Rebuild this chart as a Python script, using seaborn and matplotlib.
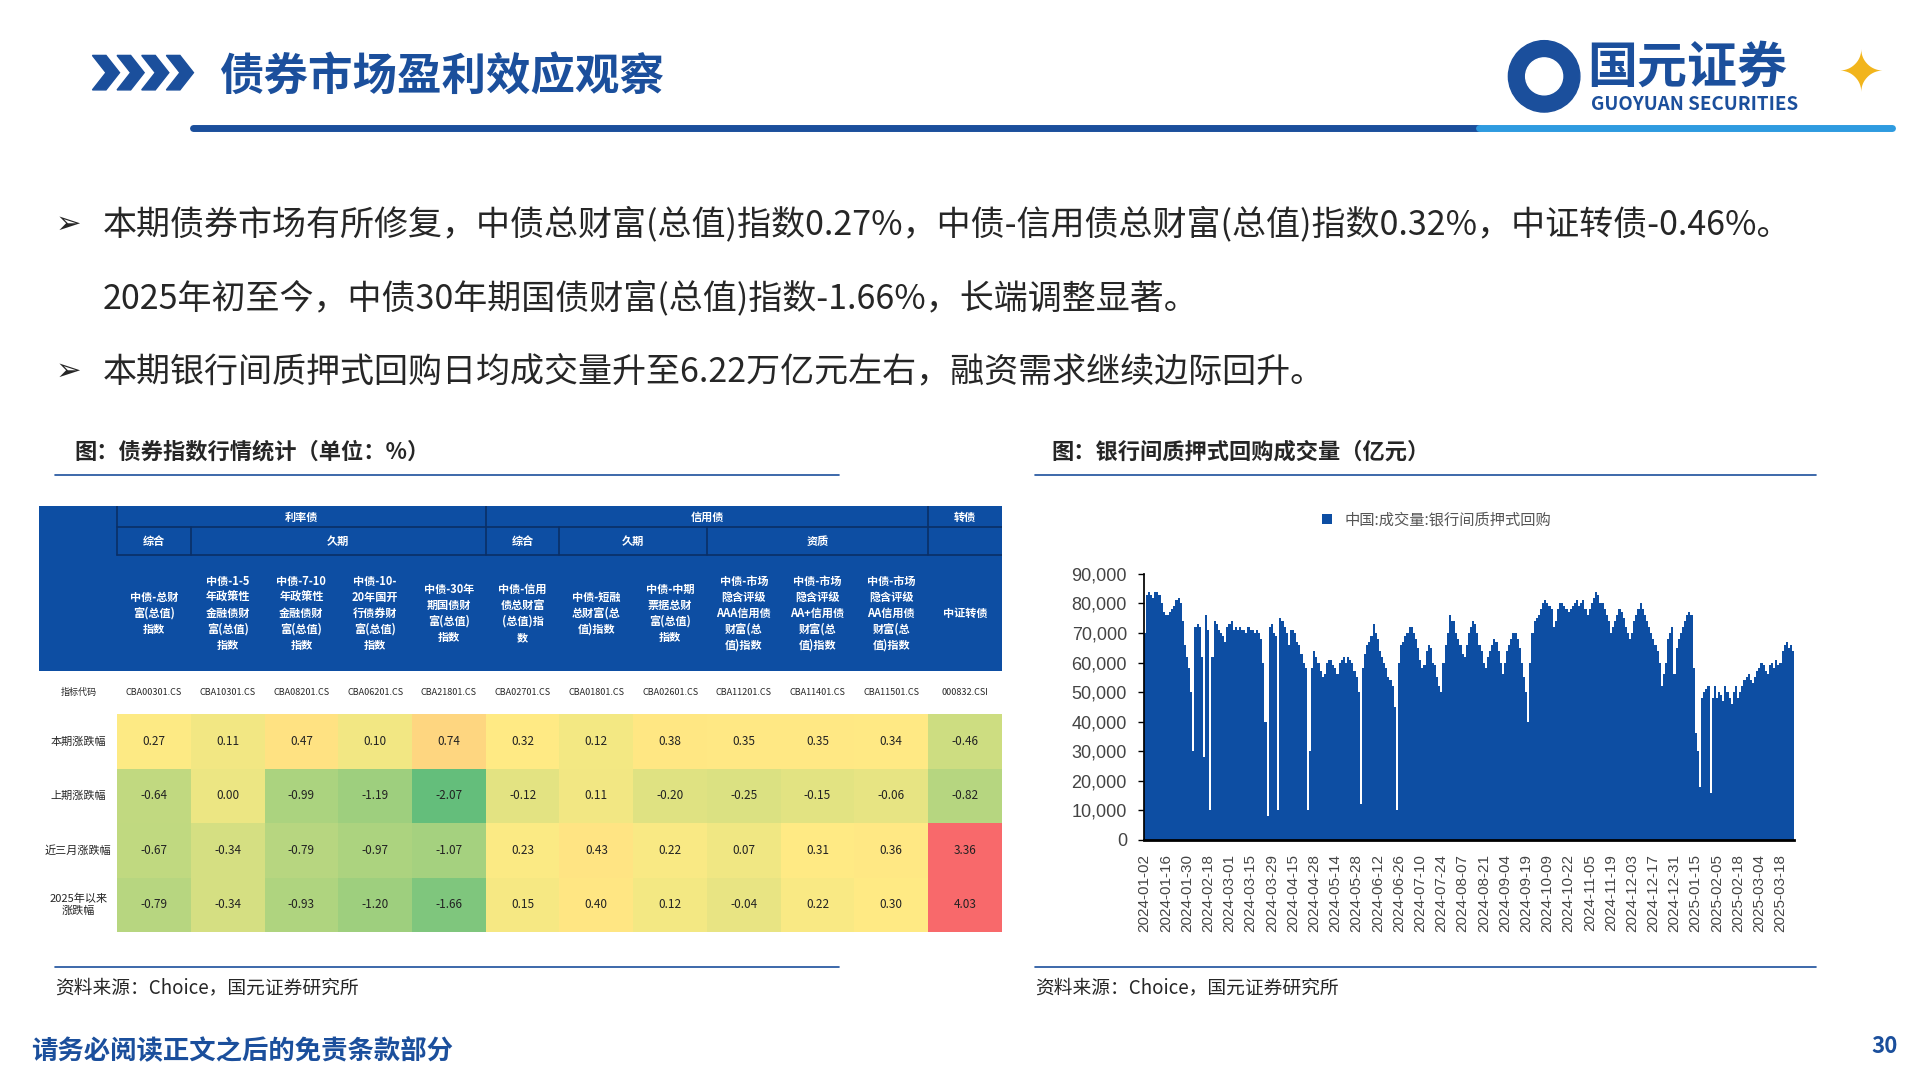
import matplotlib
matplotlib.use("Agg")
import matplotlib.pyplot as plt
import matplotlib.patches as mpatches
from matplotlib.colors import LinearSegmentedColormap, TwoSlopeNorm
import numpy as np
import pandas as pd
import seaborn as sns

sns.set_theme(style="white")
plt.rcParams['font.family'] = ['Noto Sans CJK SC', 'DejaVu Sans']

# ---------------- data ----------------
title = "债券市场盈利效应观察"
bullet1 = "本期债券市场有所修复，中债总财富(总值)指数0.27%，中债-信用债总财富(总值)指数0.32%，中证转债-0.46%。"
bullet1b = "2025年初至今，中债30年期国债财富(总值)指数-1.66%，长端调整显著。"
bullet2 = "本期银行间质押式回购日均成交量升至6.22万亿元左右，融资需求继续边际回升。"

col_names = ["中债-总财\n富(总值)\n指数", "中债-1-5\n年政策性\n金融债财\n富(总值)\n指数",
             "中债-7-10\n年政策性\n金融债财\n富(总值)\n指数", "中债-10-\n20年国开\n行债券财\n富(总值)\n指数",
             "中债-30年\n期国债财\n富(总值)\n指数", "中债-信用\n债总财富\n(总值)指\n数",
             "中债-短融\n总财富(总\n值)指数", "中债-中期\n票据总财\n富(总值)\n指数",
             "中债-市场\n隐含评级\nAAA信用债\n财富(总\n值)指数", "中债-市场\n隐含评级\nAA+信用债\n财富(总\n值)指数",
             "中债-市场\n隐含评级\nAA信用债\n财富(总\n值)指数", "中证转债"]
codes = ["CBA00301.CS", "CBA10301.CS", "CBA08201.CS", "CBA06201.CS", "CBA21801.CS", "CBA02701.CS",
         "CBA01801.CS", "CBA02601.CS", "CBA11201.CS", "CBA11401.CS", "CBA11501.CS", "000832.CSI"]
row_names = ["本期涨跌幅", "上期涨跌幅", "近三月涨跌幅", "2025年以来\n涨跌幅"]
chg_now = [0.27, 0.11, 0.47, 0.10, 0.74, 0.32, 0.12, 0.38, 0.35, 0.35, 0.34, -0.46]
chg_prev = [-0.64, 0.00, -0.99, -1.19, -2.07, -0.12, 0.11, -0.20, -0.25, -0.15, -0.06, -0.82]
chg_3m = [-0.67, -0.34, -0.79, -0.97, -1.07, 0.23, 0.43, 0.22, 0.07, 0.31, 0.36, 3.36]
chg_ytd = [-0.79, -0.34, -0.93, -1.20, -1.66, 0.15, 0.40, 0.12, -0.04, 0.22, 0.30, 4.03]

date_labels = ["2024-01-02", "2024-01-16", "2024-01-30", "2024-02-18", "2024-03-01", "2024-03-15",
               "2024-03-29", "2024-04-15", "2024-04-28", "2024-05-14", "2024-05-28", "2024-06-12",
               "2024-06-26", "2024-07-10", "2024-07-24", "2024-08-07", "2024-08-21", "2024-09-04",
               "2024-09-19", "2024-10-09", "2024-10-22", "2024-11-05", "2024-11-19", "2024-12-03",
               "2024-12-17", "2024-12-31", "2025-01-15", "2025-02-05", "2025-02-18", "2025-03-04",
               "2025-03-18"]
# 银行间质押式回购成交量（千亿元），每行约10个交易日
repo_k = [
    70, 83, 84, 83, 82, 84, 84, 83, 80, 77,
    76, 76, 77, 78, 79, 81, 82, 80, 74, 66,
    62, 58, 50, 30, 72, 73, 72, 62, 28, 76,
    71, 10, 62, 74, 73, 71, 70, 69, 67, 72,
    73, 74, 71, 72, 71, 72, 71, 71, 70, 72,
    71, 71, 70, 71, 70, 68, 60, 40, 8, 72,
    73, 70, 69, 10, 75, 74, 72, 70, 66, 71,
    71, 70, 67, 66, 63, 60, 58, 10, 30, 58,
    64, 62, 60, 57, 55, 56, 60, 61, 61, 59,
    58, 56, 60, 61, 62, 60, 62, 61, 60, 57,
    55, 50, 12, 58, 63, 66, 67, 69, 73, 70,
    68, 64, 62, 60, 58, 55, 54, 52, 45, 10,
    60, 66, 67, 69, 70, 72, 72, 70, 68, 65,
    61, 58, 59, 64, 66, 65, 60, 59, 55, 52,
    50, 60, 66, 70, 76, 74, 74, 70, 68, 66,
    63, 62, 66, 70, 72, 74, 73, 70, 66, 64,
    60, 58, 62, 64, 66, 68, 67, 64, 60, 56,
    60, 64, 66, 68, 70, 70, 68, 65, 60, 55,
    50, 40, 60, 70, 74, 75, 76, 78, 80, 81,
    80, 79, 78, 72, 74, 78, 80, 80, 79, 78,
    77, 78, 79, 80, 81, 79, 80, 81, 78, 76,
    78, 80, 82, 84, 83, 80, 80, 78, 76, 74,
    70, 72, 74, 76, 78, 77, 75, 72, 70, 68,
    70, 74, 76, 78, 80, 78, 76, 74, 72, 70,
    68, 66, 64, 60, 52, 56, 60, 68, 70, 72,
    56, 65, 68, 70, 72, 74, 76, 77, 76, 58,
    36, 30, 18, 48, 50, 51, 52, 16, 48, 52,
    48, 50, 49, 47, 52, 50, 48, 46, 50, 52,
    48, 50, 52, 54, 55, 56, 54, 53, 55, 57,
    58, 60, 59, 57, 56, 59, 60, 58, 61, 59,
    60, 64, 66, 67, 65, 66, 64,
]

BLUE = "#0d4ea3"
DARK = "#1b4f9c"
W, H = 1558.0, 877.0  # reference layout units


def rect(x0, y0, x1, y1):
    return [x0 / W, 1 - y1 / H, (x1 - x0) / W, (y1 - y0) / H]


fig = plt.figure(figsize=(19.2, 10.8), dpi=100)

# ---------------- header ----------------
for i in range(4):
    x0 = 75 + i * 20
    pts = [(x0, 45), (x0 + 11, 45), (x0 + 22, 59), (x0 + 11, 73), (x0, 73), (x0 + 11, 59)]
    fig.patches.append(mpatches.Polygon([(px / W, 1 - py / H) for px, py in pts],
                                        closed=True, color=DARK, transform=fig.transFigure))
fig.text(178 / W, 1 - 62 / H, title, fontsize=32, fontweight="bold", color=DARK, va="center")
fig.add_artist(plt.Line2D([157 / W, 1200 / W], [1 - 104 / H] * 2, color=DARK, lw=5))
fig.add_artist(plt.Line2D([1200 / W, 1535 / W], [1 - 104 / H] * 2, color="#2e9be0", lw=5))
# logo
fig.patches.append(mpatches.Ellipse((1253 / W, 1 - 62 / H), 58 / W, 58 / H, transform=fig.transFigure, color=DARK))
fig.patches.append(mpatches.Ellipse((1253 / W, 1 - 62 / H), 30 / W, 30 / H, transform=fig.transFigure, color="white"))
fig.text(1288 / W, 1 - 55 / H, "国元证券", fontsize=36, fontweight="bold", color=DARK, va="center")
fig.text(1291 / W, 1 - 85 / H, "GUOYUAN SECURITIES", fontsize=13.5, fontweight="bold", color=DARK, va="center")
fig.text(1510 / W, 1 - 62 / H, "✦", fontsize=40, color="#f2b51c", va="center", ha="center",
         family=["DejaVu Sans"])

# bullets
fig.text(45 / W, 1 - 182 / H, "➢", fontsize=22, va="center", family=["DejaVu Sans"])
fig.text(83 / W, 1 - 182 / H, bullet1, fontsize=24.5, va="center")
fig.text(83 / W, 1 - 242 / H, bullet1b, fontsize=24.5, va="center")
fig.text(45 / W, 1 - 302 / H, "➢", fontsize=22, va="center", family=["DejaVu Sans"])
fig.text(83 / W, 1 - 302 / H, bullet2, fontsize=24.5, va="center")

# sub titles
fig.text(60 / W, 1 - 367 / H, "图：债券指数行情统计（单位：%）", fontsize=16, fontweight="bold", va="center")
fig.text(853 / W, 1 - 367 / H, "图：银行间质押式回购成交量（亿元）", fontsize=16, fontweight="bold", va="center")
for x0, x1 in [(45, 681), (840, 1474)]:
    fig.add_artist(plt.Line2D([x0 / W, x1 / W], [1 - 386 / H] * 2, color=DARK, lw=1.2))
    fig.add_artist(plt.Line2D([x0 / W, x1 / W], [1 - 785 / H] * 2, color=DARK, lw=1.2))
fig.text(45 / W, 1 - 802 / H, "资料来源：Choice，国元证券研究所", fontsize=13.5, va="center")
fig.text(840 / W, 1 - 802 / H, "资料来源：Choice，国元证券研究所", fontsize=13.5, va="center")
fig.text(25 / W, 1 - 854 / H, "请务必阅读正文之后的免责条款部分", fontsize=19, fontweight="bold",
         color=DARK, va="center")
fig.text(1540 / W, 1 - 850 / H, "30", fontsize=16, fontweight="bold", color=DARK, va="center", ha="right")

# ---------------- table ----------------
TX0, TX1, TY0, TY1 = 32, 813, 411, 757
LX = 95
cw = (TX1 - LX) / 12.0
axt = fig.add_axes(rect(TX0, TY0, TX1, TY1))
axt.set_xlim(TX0, TX1)
axt.set_ylim(TY1, TY0)
axt.axis("off")
axt.add_patch(mpatches.Rectangle((TX0, TY0), TX1 - TX0, 545 - TY0, color=BLUE, lw=0))
cx = [LX + (i + 0.5) * cw for i in range(12)]
edge = lambda i: LX + i * cw
line_kw = dict(color="#0a2f66", lw=1.2)
axt.plot([LX, TX1], [428, 428], **line_kw)
axt.plot([LX, TX1], [451, 451], **line_kw)
for i in [0, 5, 11]:
    axt.plot([edge(i)] * 2, [TY0, 451], **line_kw)
for i in [1, 6, 8]:
    axt.plot([edge(i)] * 2, [428, 451], **line_kw)
hk = dict(color="white", fontsize=8, ha="center", va="center", fontweight="bold")
axt.text((edge(0) + edge(5)) / 2, 420, "利率债", **hk)
axt.text((edge(5) + edge(11)) / 2, 420, "信用债", **hk)
axt.text(cx[11], 420, "转债", **hk)
axt.text(cx[0], 440, "综合", **hk)
axt.text((edge(1) + edge(5)) / 2, 440, "久期", **hk)
axt.text(cx[5], 440, "综合", **hk)
axt.text((edge(6) + edge(8)) / 2, 440, "久期", **hk)
axt.text((edge(8) + edge(11)) / 2, 440, "资质", **hk)
for i, name in enumerate(col_names):
    axt.text(cx[i], 498, name, color="white", fontsize=8, ha="center", va="center",
             fontweight="bold", linespacing=1.3)
axt.text((TX0 + LX) / 2, 562, "指标代码", fontsize=6.5, ha="center", va="center")
for i, c in enumerate(codes):
    axt.text(cx[i], 562, c, fontsize=6.5, ha="center", va="center")
row_h = (TY1 - 580) / 4
for r, nm in enumerate(row_names):
    axt.text((TX0 + LX) / 2, 580 + (r + 0.5) * row_h, nm, fontsize=8, ha="center", va="center")

vals = pd.DataFrame([chg_now, chg_prev, chg_3m, chg_ytd], index=row_names, columns=codes)
cmap = LinearSegmentedColormap.from_list("xl", ["#63be7b", "#ffeb84", "#f8696b"])
norm = TwoSlopeNorm(vmin=-2.1, vcenter=0.3, vmax=3.0)
axh = fig.add_axes(rect(LX, 580, TX1, TY1))
sns.heatmap(vals, ax=axh, cmap=cmap, norm=norm, cbar=False, annot=True, fmt=".2f",
            annot_kws={"fontsize": 8.5, "color": "#222222"}, linewidths=0)
axh.set_xticks([])
axh.set_yticks([])
axh.set_xlabel("")
axh.set_ylabel("")

# ---------------- bar chart ----------------
dfr = pd.DataFrame({"idx": np.arange(len(repo_k)), "v": np.array(repo_k) * 1000})
axb = fig.add_axes(rect(928, 466, 1456, 682))
sns.barplot(data=dfr, x="idx", y="v", ax=axb, color=BLUE, width=1.0, saturation=1,
            edgecolor=BLUE, linewidth=0, label="中国:成交量:银行间质押式回购")
axb.set_ylim(0, 90000)
axb.set_yticks(np.arange(0, 90001, 10000))
axb.set_yticklabels([f"{v:,}" for v in range(0, 90001, 10000)], fontsize=13, color="#444444",
                    family=["Liberation Sans"])
axb.set_xticks(np.arange(0, len(repo_k), 10)[:len(date_labels)])
axb.set_xticklabels(date_labels, rotation=90, fontsize=11, color="#444444", family=["Liberation Sans"])
axb.set_xlim(-0.5, len(repo_k) - 0.5)
axb.set_xlabel("")
axb.set_ylabel("")
for s in ["top", "right"]:
    axb.spines[s].set_visible(False)
axb.spines["left"].set_color("black")
axb.spines["bottom"].set_color("black")
axb.spines["bottom"].set_linewidth(2)
axb.tick_params(axis="y", left=True, length=4, width=1, color="black", pad=8)
axb.tick_params(axis="x", bottom=False, pad=4)
axb.legend(loc="lower center", bbox_to_anchor=(0.45, 1.12), frameon=False, fontsize=11,
           handlelength=0.7, handleheight=0.7, labelcolor="#555555")

fig.savefig("out.png", dpi=100)
